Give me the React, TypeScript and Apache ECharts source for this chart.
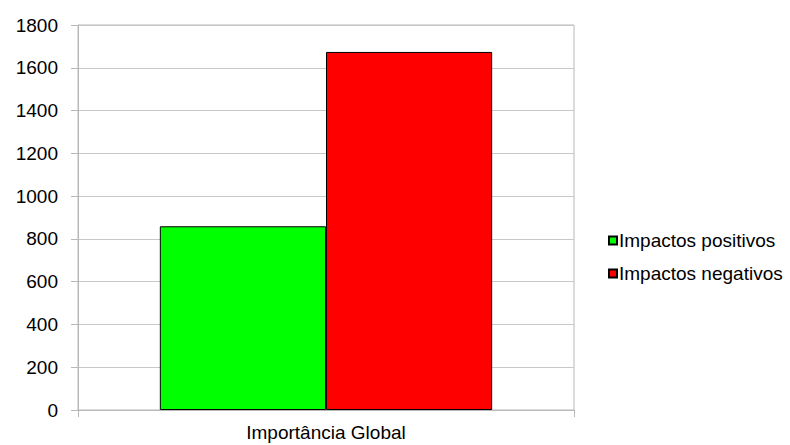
import React, { useEffect, useRef } from "react";
import * as echarts from "echarts";

const categories = ["Importância Global"];
const seriesNames = ["Impactos positivos", "Impactos negativos"];
const positiveValues = [859];
const negativeValues = [1674];
const colors = ["#00ff00", "#ff0000"];

export default function App() {
  const ref = useRef<HTMLDivElement>(null);
  useEffect(() => {
    if (!ref.current) return;
    const chart = echarts.init(ref.current, null, { renderer: "svg" });
    const font = "Liberation Sans, Arial, sans-serif";
    chart.setOption({
      animation: false,
      textStyle: { fontFamily: font },
      grid: {
        left: 78,
        right: 216,
        top: 25,
        bottom: 35,
        show: true,
        borderColor: "#b8b8b8",
        borderWidth: 1,
      },
      legend: {
        orient: "vertical",
        left: 603,
        top: 226,
        itemWidth: 8,
        itemHeight: 8,
        itemGap: 14,
        icon: "rect",
        textStyle: { fontSize: 19, color: "#000", fontFamily: font, padding: [0, 0, 0, -3] },
        data: seriesNames,
      },
      xAxis: {
        type: "category",
        data: categories,
        axisLine: { lineStyle: { color: "#b8b8b8", width: 1 } },
        axisTick: { show: true, length: 7, lineStyle: { color: "#b8b8b8" } },
        axisLabel: { fontSize: 19, color: "#000", margin: 13, fontFamily: font },
      },
      yAxis: {
        type: "value",
        min: 0,
        max: 1800,
        interval: 200,
        axisLine: { show: true, lineStyle: { color: "#b8b8b8" } },
        axisTick: { show: true, length: 7, lineStyle: { color: "#b8b8b8" } },
        axisLabel: {
          fontSize: 19,
          color: "#000",
          margin: 20,
          fontFamily: font,
          formatter: (v: number) => String(v),
        },
        splitLine: { lineStyle: { color: "#c8c8c8" } },
      },
      series: [
        {
          name: seriesNames[0],
          type: "bar",
          data: positiveValues,
          barGap: "0%",
          barCategoryGap: "33%",
          itemStyle: { color: colors[0], borderColor: "#000", borderWidth: 1 },
        },
        {
          name: seriesNames[1],
          type: "bar",
          data: negativeValues,
          barGap: "0%",
          barCategoryGap: "33%",
          itemStyle: { color: colors[1], borderColor: "#000", borderWidth: 1 },
        },
      ],
    });
    return () => chart.dispose();
  }, []);
  return <div ref={ref} style={{ width: 790, height: 445, position: "absolute", left: 0, top: 0 }} />;
}
